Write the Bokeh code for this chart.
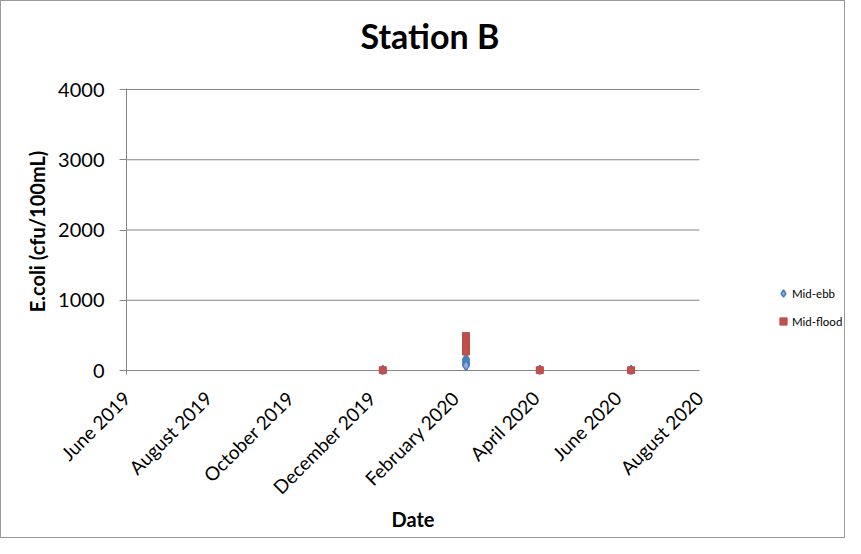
import math
import pandas as pd
from bokeh.plotting import figure
from bokeh.models import (Range1d, FixedTicker, DatetimeTickFormatter, Legend,
                          LegendItem, ColumnDataSource, Title)
from bokeh.embed import file_html
from bokeh.resources import INLINE

# ---------------- data ----------------
TITLE = "Station B"
X_TITLE = "Date"
Y_TITLE = "E.coli (cfu/100mL)"
x_tick_dates = ["2019-06-01", "2019-08-01", "2019-10-01", "2019-12-01",
                "2020-02-01", "2020-04-01", "2020-06-01", "2020-08-01"]
y_ticks = [0, 1000, 2000, 3000, 4000]

ebb_dates = ["2019-12-09", "2020-02-09", "2020-02-09", "2020-02-09",
             "2020-02-09", "2020-02-09", "2020-04-04", "2020-06-11"]
ebb_values = [2, 160, 130, 110, 90, 70, 3, 2]

flood_dates = ["2019-12-09", "2020-02-09", "2020-02-09", "2020-02-09",
               "2020-02-09", "2020-02-09", "2020-02-09", "2020-02-09",
               "2020-02-09", "2020-04-04", "2020-06-11"]
flood_values = [4, 490, 460, 430, 400, 370, 340, 300, 270, 5, 3]

series_names = ["Mid-ebb", "Mid-flood"]

# ---------------- layout / styling ----------------
FONT = "Lato"
GRID = "#868686"
TEXT = "#000000"

W, H = 845, 538
PLOT_L, PLOT_R = 125, 698          # pixel extent of the dated axis
PLOT_T, PLOT_B = 88, 369           # pixel extent of 4000 .. 0
PAD_B, PAD_T = 4, 1                # room so markers on 0 are not cut

x0 = pd.Timestamp(x_tick_dates[0])
x1 = pd.Timestamp(x_tick_dates[-1])
x_end = x0 + (x1 - x0) * ((W - PLOT_L) / (PLOT_R - PLOT_L))
unit = (y_ticks[-1] - y_ticks[0]) / (PLOT_B - PLOT_T)

p = figure(width=W, height=H, x_axis_type="datetime",
           output_backend="svg", toolbar_location=None,
           x_range=Range1d(x0, x_end),
           y_range=Range1d(y_ticks[0] - PAD_B * unit, y_ticks[-1] + PAD_T * unit),
           min_border_left=PLOT_L, min_border_right=0,
           min_border_top=PLOT_T - PAD_T, min_border_bottom=H - (PLOT_B + PAD_B))
p.styles = {"border": "1px solid #9a9a9a"}
p.outline_line_color = None
p.background_fill_color = "white"
p.border_fill_color = "white"

# spacer between the plot area and the chart title
p.add_layout(Title(text=" ", text_font_size="1px", standoff=30), "above")

p.title.text = TITLE
p.title.align = "left"
p.title.vertical_align = "bottom"
p.title.offset = 234
p.title.standoff = 0
p.title.text_font = FONT
p.title.text_font_size = "34px"
p.title.text_font_style = "bold"
p.title.text_color = TEXT

# x axis
xa = p.xaxis[0]
xa.ticker = FixedTicker(ticks=[pd.Timestamp(d).value // 10**6 for d in x_tick_dates])
fmt = "%B %Y"
xa.formatter = DatetimeTickFormatter(microseconds=fmt, milliseconds=fmt, seconds=fmt,
                                     minsec=fmt, minutes=fmt, hourmin=fmt, hours=fmt,
                                     days=fmt, months=fmt, years=fmt, context=None)
xa.major_label_orientation = math.pi / 4
xa.major_tick_line_color = None
xa.minor_tick_line_color = None
xa.axis_line_color = None
xa.major_label_text_font = FONT
xa.major_label_text_font_size = "19px"
xa.major_label_text_color = TEXT
xa.major_label_standoff = 14

xt = Title(text=X_TITLE, align="left", vertical_align="top", offset=265, standoff=-6,
           text_font=FONT, text_font_size="20px", text_font_style="bold",
           text_color=TEXT)
p.add_layout(xt, "below")

# y axis
ya = p.yaxis[0]
ya.ticker = FixedTicker(ticks=y_ticks)
ya.major_tick_out = 7
ya.major_tick_in = 0
ya.major_tick_line_color = GRID
ya.minor_tick_line_color = None
ya.axis_line_color = GRID
ya.major_label_text_font = FONT
ya.major_label_text_font_size = "20px"
ya.major_label_text_color = TEXT
ya.major_label_standoff = 15
ya.axis_label = Y_TITLE
ya.axis_label_text_font = FONT
ya.axis_label_text_font_size = "20px"
ya.axis_label_text_font_style = "bold"
ya.axis_label_text_color = TEXT
ya.axis_label_standoff = 6

# horizontal gridlines only across the dated span
p.xgrid.visible = False
p.ygrid.visible = False
p.segment(x0=[x0] * len(y_ticks), y0=y_ticks, x1=[x1] * len(y_ticks), y1=y_ticks,
          line_color=GRID, line_width=1, level="underlay")

ebb_src = ColumnDataSource(dict(x=pd.to_datetime(ebb_dates), y=ebb_values))
flood_src = ColumnDataSource(dict(x=pd.to_datetime(flood_dates), y=flood_values))

r1 = p.scatter(x="x", y="y", source=ebb_src, marker="diamond", size=10,
               fill_color="#8EADDA", line_color="#4A7EBB", line_width=1.5)
r2 = p.scatter(x="x", y="y", source=flood_src, marker="square", size=7,
               fill_color="#C0504D", line_color="#BE4B48", line_width=1)

legend = Legend(items=[LegendItem(label=series_names[0], renderers=[r1]),
                       LegendItem(label=series_names[1], renderers=[r2])],
                location=(648, 44))
legend.label_text_font = FONT
legend.label_text_font_size = "11.5px"
legend.label_text_color = TEXT
legend.glyph_width = 18
legend.glyph_height = 18
legend.label_height = 18
legend.label_standoff = 0
legend.spacing = 10
legend.padding = 0
legend.margin = 0
legend.border_line_color = None
legend.background_fill_alpha = 0
p.add_layout(legend)

open("out.html", "w").write(file_html(p, INLINE))
